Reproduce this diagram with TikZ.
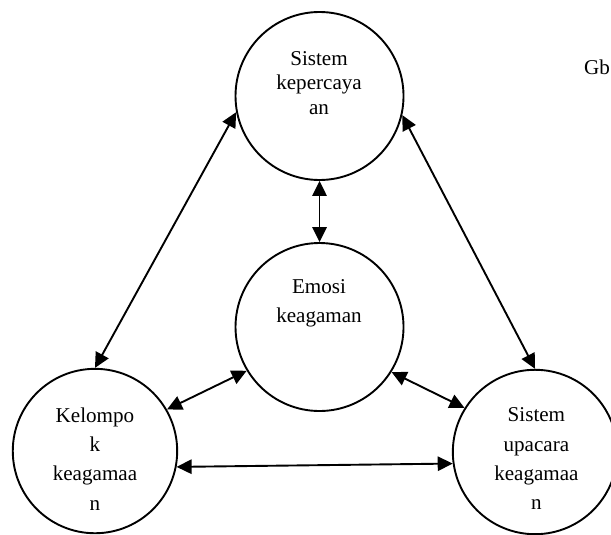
\documentclass[tikz,border=0pt]{standalone}
\usepackage{fontspec}
\setmainfont{Liberation Serif}
\usepackage{tikz}
\usetikzlibrary{arrows.meta,calc,positioning}

\tikzset{
    unsur/.style={draw, circle, line width=0.9pt, inner sep=0pt},
    teks/.style={align=center, font=\fontsize{10}{13.9}\selectfont},
    tekstop/.style={align=center, font=\fontsize{10}{11.7}\selectfont},
    panah/.style={line width=0.9pt, {Triangle[length=0.25cm,width=0.24cm]}-{Triangle[length=0.25cm,width=0.24cm]}}
}

\begin{document}
\begin{tikzpicture}
    % Fix the page size
    \useasboundingbox (0,0) rectangle (10.183,-8.9);
    % Define circle sizes
    \def\dbig{2.8cm}
    \def\dsmall{2.74cm}
    % The four circles
    \node[unsur, minimum size=\dbig] (sistem) at (5.325,-1.6) {};
    \node[unsur, minimum size=\dbig] (emosi) at (5.325,-5.45) {};
    \node[unsur, minimum size=\dsmall] (kelompok) at (1.583,-7.517) {};
    \node[unsur, minimum size=\dsmall] (upacara) at (8.917,-7.533) {};
    % Texts inside the circles (set a little above centre)
    \node[tekstop] (tsistem) at (5.317,-1.383) {Sistem\\kepercaya\\an};
    \node[teks] (temosi) at (5.317,-5.05) {Emosi\\keagaman};
    \node[teks] (tkelompok) at (1.583,-7.646) {Kelompo\\k\\keagamaa\\n};
    \node[teks] (tupacara) at (8.94,-7.646) {Sistem\\upacara\\keagamaa\\n};
    % Caption at the right edge
    \node[anchor=east, font=\fontsize{10}{12}\selectfont, inner sep=0pt] (gb) at (10.17,-1.117) {Gb};
    % Two-way arrows between the circles
    \draw[panah] (sistem.270) -- (emosi.90);
    \draw[panah] (sistem.191.5) -- (kelompok.90);
    \draw[panah] (sistem.347) -- (upacara.90);
    \draw[panah] (emosi.211.5) -- (kelompok.30);
    \draw[panah] (emosi.328.5) -- (upacara.148);
    \draw[panah] (kelompok.349) -- (upacara.188);
\end{tikzpicture}
\end{document}
